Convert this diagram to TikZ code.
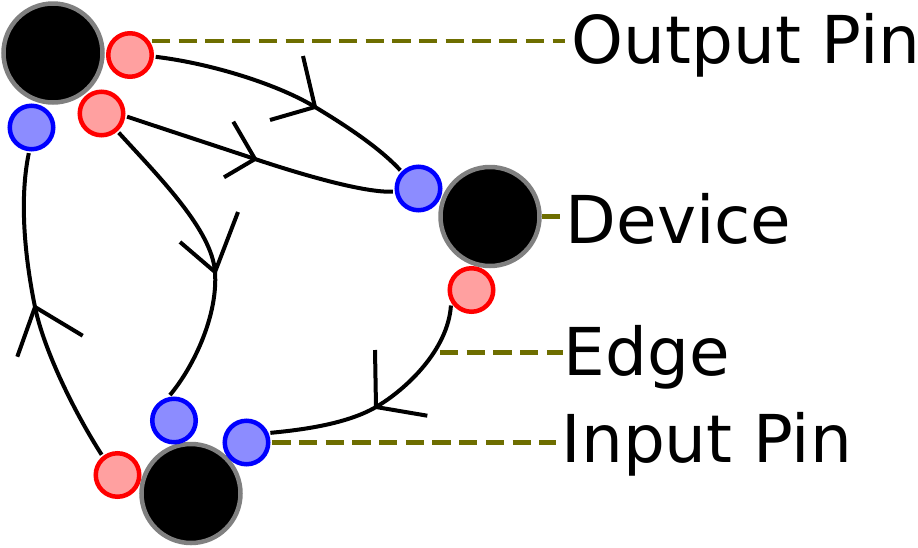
\documentclass[tikz,border=0pt]{standalone}
\usepackage{fontspec}
\setmainfont{DejaVu Sans}
\definecolor{devgray}{RGB}{128,128,128}
\definecolor{pinred}{RGB}{255,160,160}
\definecolor{pinblue}{RGB}{140,140,255}
\definecolor{leaderc}{RGB}{110,110,0}
\begin{document}
\begin{tikzpicture}[x=1pt,y=-1pt,
  device/.style={circle,draw=devgray,fill=black,line width=4.5pt,minimum size=99pt,inner sep=0pt},
  pinout/.style={circle,draw=red,fill=pinred,line width=4.5pt,minimum size=43.5pt,inner sep=0pt,outer sep=4pt},
  pinin/.style={circle,draw=blue,fill=pinblue,line width=4.5pt,minimum size=43.5pt,inner sep=0pt,outer sep=4pt},
  wire/.style={draw=black,line width=4pt},
  barb/.style={draw=black,line width=4pt},
  leader/.style={draw=leaderc,line width=4.5pt,dash pattern=on 18.3pt off 8.4pt},
  lbl/.style={inner sep=0pt,anchor=base west,font=\fontsize{66}{79}\selectfont}]
\useasboundingbox (0,0) rectangle (918,547);

% devices
\node[device] (dA) at (53,53) {};
\node[device] (dB) at (490,216.5) {};
\node[device] (dC) at (191,493.5) {};

% pins
\node[pinout] (rA1) at (130,55) {};
\node[pinout] (rA2) at (101.5,113.5) {};
\node[pinin]  (bA)  at (31.5,127.5) {};
\node[pinin]  (bB)  at (418.5,188.5) {};
\node[pinout] (rB)  at (471.5,290) {};
\node[pinin]  (bC1) at (174,420.5) {};
\node[pinin]  (bC2) at (246.5,442.5) {};
\node[pinout] (rC)  at (117.5,475) {};

% arrow tips
\coordinate (t1) at (315,107);
\coordinate (t2) at (255,159);
\coordinate (t3) at (215,272);
\coordinate (t4) at (35,307);
\coordinate (t5) at (376,407);

% edges
\draw[wire] (rA1.-4.6) .. controls (215,64) and (281,86) .. (t1)
  .. controls (345,125) and (380,148) .. (bB.135);
\draw[wire] (rA2.-7.5) .. controls (170,131) and (213,145) .. (t2)
  .. controls (303,175) and (365,193) .. (bB.187.8);
\draw[wire] (rA2.-48.3) .. controls (160,178) and (212,230) .. (t3)
  .. controls (218,314) and (195,365) .. (bC1.99.3);
\draw[wire] (rC.128.9) .. controls (70,405) and (43,346) .. (t4)
  .. controls (27,268) and (18,205) .. (bA.264.8);
\draw[wire] (rB.217.6) .. controls (448,350) and (406,389.5) .. (t5)
  .. controls (346,424.5) and (300,430) .. (bC2.22);

% arrowheads
\draw[barb] (303,56) -- (t1) -- (270,120);
\draw[barb] (233.3,121.7) -- (t2) -- (224,177.3);
\draw[barb] (180,242) -- (t3) -- (238,212);
\draw[barb] (17.3,356.7) -- (t4) -- (82.7,335.7);
\draw[barb] (375,350) -- (t5) -- (427.3,415.7);

% labels
\node[lbl] (oT) at (571.4,63) {Output Pin};
\node[lbl] (dT) at (565.5,243) {Device};
\node[lbl] (eT) at (563.5,375) {Edge};
\node[lbl] (iT) at (561.5,462) {Input Pin};

% leaders
\coordinate (oS) at (152,41);
\coordinate (eS) at (440,352.5);
\draw[leader] (oS) -- ([xshift=-6pt]oS -| oT.west);
\draw[leader] (dB.east) -- ([xshift=-6pt]dB.east -| dT.west);
\draw[leader] (eS) -- ([xshift=-1pt]eS -| eT.west);
\draw[leader] (bC2.east) -- ([xshift=-6pt]bC2.east -| iT.west);
\end{tikzpicture}
\end{document}
